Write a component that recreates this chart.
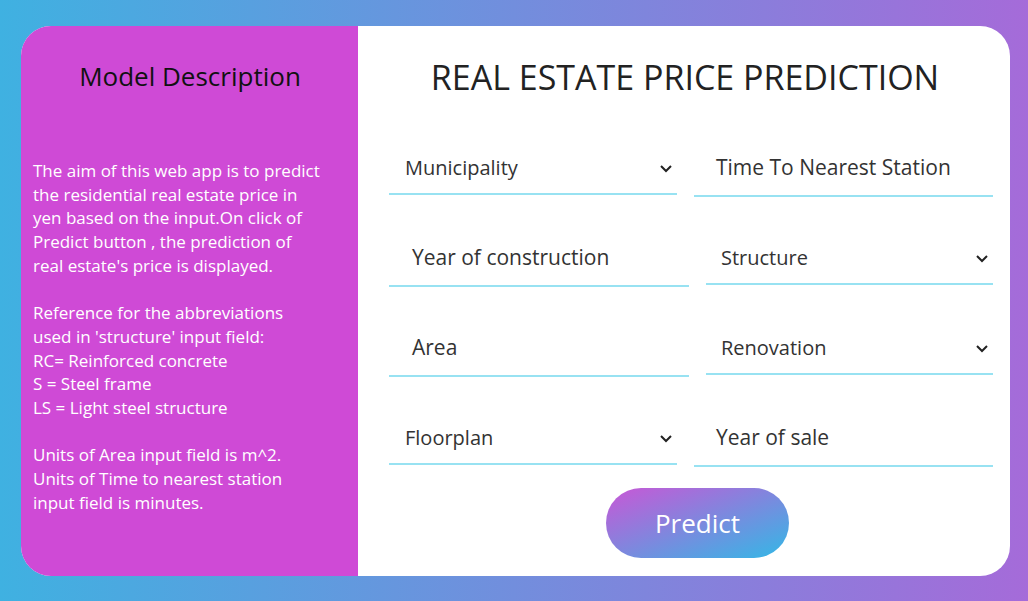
import React from "react";

const descLines = [
  "The aim of this web app is to predict",
  "the residential real estate price in",
  "yen based on the input.On click of",
  "Predict button , the prediction of",
  "real estate's price is displayed.",
  "",
  "Reference for the abbreviations",
  "used in 'structure' input field:",
  "RC= Reinforced concrete",
  "S = Steel frame",
  "LS = Light steel structure",
  "",
  "Units of Area input field is m^2.",
  "Units of Time to nearest station",
  "input field is minutes.",
];

type Field = { label: string; x1: number; x2: number; ly: number; ty: number; tx: number; select: boolean; size: number };
const fields: Field[] = [
  { label: "Municipality", x1: 389, x2: 677, ly: 194, ty: 175, tx: 405, select: true, size: 20 },
  { label: "Time To Nearest Station", x1: 694, x2: 993, ly: 196, ty: 175, tx: 716, select: false, size: 21 },
  { label: "Year of construction", x1: 389, x2: 689, ly: 286, ty: 265, tx: 412, select: false, size: 21 },
  { label: "Structure", x1: 706, x2: 993, ly: 284, ty: 265, tx: 721, select: true, size: 20 },
  { label: "Area", x1: 389, x2: 689, ly: 376, ty: 355, tx: 412, select: false, size: 21 },
  { label: "Renovation", x1: 706, x2: 993, ly: 374, ty: 355, tx: 721, select: true, size: 20 },
  { label: "Floorplan", x1: 389, x2: 677, ly: 464, ty: 445, tx: 405, select: true, size: 20 },
  { label: "Year of sale", x1: 694, x2: 993, ly: 466, ty: 445, tx: 716, select: false, size: 21 },
];

const font = "'Open Sans', Lato, sans-serif";

export default function App() {
  return (
    <svg width={1028} height={601} style={{ position: "absolute", left: 0, top: 0 }} fontFamily={font}>
      <defs>
        <linearGradient id="bg" x1="0" x2="1" y1="0" y2="0">
          <stop offset="0" stopColor="#3fb1e1" />
          <stop offset="1" stopColor="#a56bd9" />
        </linearGradient>
        <linearGradient id="btn" x1="0" y1="0" x2="1" y2="1">
          <stop offset="0" stopColor="#c957d6" />
          <stop offset="1" stopColor="#33b8e6" />
        </linearGradient>
        <clipPath id="card">
          <rect x={21} y={26} width={989} height={550} rx={30} />
        </clipPath>
      </defs>
      <rect width={1028} height={601} fill="url(#bg)" />
      <g clipPath="url(#card)">
        <rect x={21} y={26} width={989} height={550} fill="#fff" />
        <rect x={21} y={26} width={337} height={550} fill="#cf4ad6" />
      </g>
      <text x={190} y={86} textAnchor="middle" fontSize={26} fill="#111">Model Description</text>
      {descLines.map((l, i) => (
        <text key={i} x={33} y={177 + i * 23.7} fontSize={17} fill="#fff">{l}</text>
      ))}
      <text x={685} y={90} textAnchor="middle" fontSize={34} fill="#222">REAL ESTATE PRICE PREDICTION</text>
      {fields.map((f, i) => (
        <g key={i}>
          <line x1={f.x1} x2={f.x2} y1={f.ly} y2={f.ly} stroke="#33c6e6" strokeWidth={1.2} />
          <text x={f.tx} y={f.ty} fontSize={f.size} fill="#333">{f.label}</text>
          {f.select && (
            <path d={`M${f.x2 - 16},${f.ty - 9} l5,5 l5,-5`} fill="none" stroke="#222" strokeWidth={2} />
          )}
        </g>
      ))}
      <rect x={606} y={488} width={183} height={70} rx={35} fill="url(#btn)" />
      <text x={697.5} y={533} textAnchor="middle" fontSize={26} fill="#fff">Predict</text>
    </svg>
  );
}
